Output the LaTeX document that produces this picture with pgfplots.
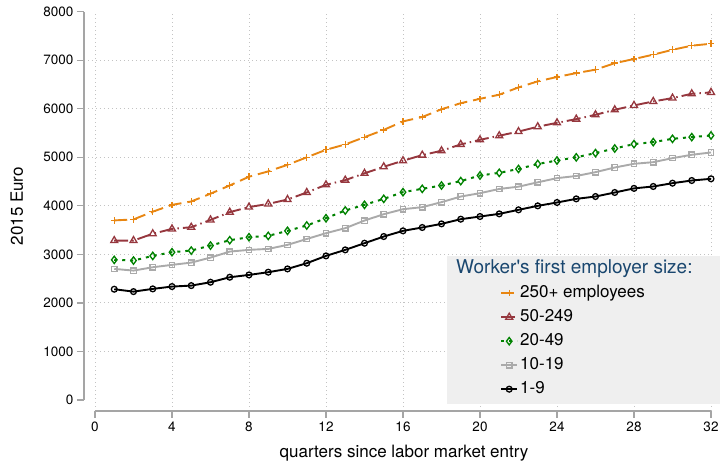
\documentclass[border=0pt]{standalone}
\usepackage{fontspec}
\setmainfont{TeX Gyre Heros}
\usepackage{pgfplots}
\usepackage{pgfplotstable}
\pgfplotsset{compat=1.18}

\definecolor{sorange}{RGB}{232,134,18}
\definecolor{scranb}{RGB}{150,55,62}
\definecolor{sgreen}{RGB}{0,130,0}
\definecolor{sgray}{RGB}{170,170,170}
\definecolor{snavy}{RGB}{26,71,111}
\definecolor{legbg}{RGB}{239,239,239}
\definecolor{axgray}{RGB}{165,165,165}
\definecolor{gridgray}{RGB}{195,195,195}

% mean monthly wage by quarter since entry, by size of first employer
\pgfplotstableread{
q  big   mid   small  tiny  micro
1  3700  3285  2887  2701  2282
2  3720  3285  2873  2666  2233
3  3880  3425  2969  2735  2289
4  4020  3525  3045  2784  2337
5  4090  3560  3079  2831  2357
6  4250  3710  3182  2934  2426
7  4420  3870  3292  3058  2529
8  4600  3975  3354  3093  2577
9  4710  4040  3381  3113  2633
10 4845  4130  3485  3196  2701
11 5000  4275  3595  3317  2818
12 5155  4433  3745  3437  2969
13 5265  4530  3904  3540  3093
14 5415  4670  4021  3697  3230
15 5565  4805  4144  3828  3368
16 5740  4930  4282  3931  3485
17 5830  5045  4351  3973  3554
18 5990  5135  4419  4076  3629
19 6115  5265  4510  4192  3725
20 6205  5360  4625  4261  3780
21 6290  5445  4680  4348  3835
22 6440  5530  4760  4395  3918
23 6565  5630  4862  4485  4000
24 6655  5710  4934  4571  4069
25 6735  5787  5000  4615  4144
26 6805  5876  5087  4694  4192
27 6940  5979  5182  4790  4275
28 7025  6069  5272  4866  4360
29 7115  6151  5313  4900  4399
30 7215  6220  5381  4983  4467
31 7300  6309  5416  5052  4522
32 7340  6337  5450  5100  4557
}\wages

\begin{document}
\begin{tikzpicture}
\begin{axis}[
  name=ax,
  scale only axis,
  width=627pt, height=399.3pt,
  xmin=-0.5714, xmax=32,
  ymin=-226.6, ymax=8000,
  clip=false,
  axis lines*=left,
  axis line style={draw=none},
  tick align=outside,
  major tick length=7pt,
  tick style={axgray, line width=1.3pt},
  xtick={0,4,...,32},
  ytick={0,1000,...,8000},
  xmajorgrids=true,
  extra y ticks={1000,2000,...,7000},
  extra y tick labels={},
  extra y tick style={grid=major, major tick length=0pt},
  grid style={gridgray, line width=0.9pt, dash pattern=on 1pt off 3pt},
  /pgf/number format/assume math mode=true,
  /pgf/number format/set thousands separator={},
  ticklabel style={font=\fontsize{13.5}{16}\selectfont},
  xlabel={quarters since labor market entry},
  ylabel={2015 Euro},
  label style={font=\fontsize{17}{20}\selectfont},
  xlabel style={at={(axis description cs:0.5104,-0.105)}, anchor=center, inner sep=0pt},
  ylabel style={at={(axis description cs:-0.107,0.513)}, anchor=center, inner sep=0pt},
  legend image code/.code={\draw[mark repeat=2,mark phase=2,#1] plot coordinates {(0pt,0pt)(8pt,0pt)(16pt,0pt)};},
  legend style={at={(axis description cs:0.6635,0.3206)}, anchor=north west,
    draw=none, fill=none, inner sep=0pt, row sep=4pt,
    font=\fontsize{17}{20}\selectfont,
    nodes={inner sep=2pt, text height=12pt, text depth=4pt}},
  legend cell align=left,
  mark options={solid, line width=1.3pt},
]
\fill[legbg] (axis description cs:0.579,0.0175) rectangle (axis description cs:1.0144,0.3882);
\draw[axgray, line width=1.3pt] (axis cs:0,-226.6) -- (axis cs:32,-226.6);
\draw[axgray, line width=1.3pt] (axis cs:-0.5714,0) -- (axis cs:-0.5714,8000);
\node[anchor=base west, inner sep=0pt, text=snavy, font=\fontsize{19}{22}\selectfont]
  at (axis description cs:0.5933,0.3456) {Worker\textquotesingle s first employer size:};

\addplot[sorange, line width=1.9pt, dash pattern=on 13pt off 6pt, mark=+, mark size=3.3pt]
  table[x=q, y=big] {\wages};
\addlegendentry{250+ employees}
\addplot[scranb, line width=1.9pt, dash pattern=on 14pt off 4pt on 1.5pt off 4pt, mark=triangle, mark size=4pt]
  table[x=q, y=mid] {\wages};
\addlegendentry{50-249}
\addplot[sgreen, line width=2pt, dash pattern=on 3pt off 5pt, mark=diamond, mark size=3.7pt]
  table[x=q, y=small] {\wages};
\addlegendentry{20-49}
\addplot[sgray, line width=1.9pt, mark=square, mark size=2.7pt]
  table[x=q, y=tiny] {\wages};
\addlegendentry{10-19}
\addplot[black, line width=1.9pt, mark=o, mark size=2.9pt]
  table[x=q, y=micro] {\wages};
\addlegendentry{1-9}
\end{axis}
\pgfresetboundingbox
\path ([xshift=-84pt,yshift=-55pt]ax.south west) rectangle ([xshift=637pt,yshift=411pt]ax.south west);
\end{tikzpicture}
\end{document}
